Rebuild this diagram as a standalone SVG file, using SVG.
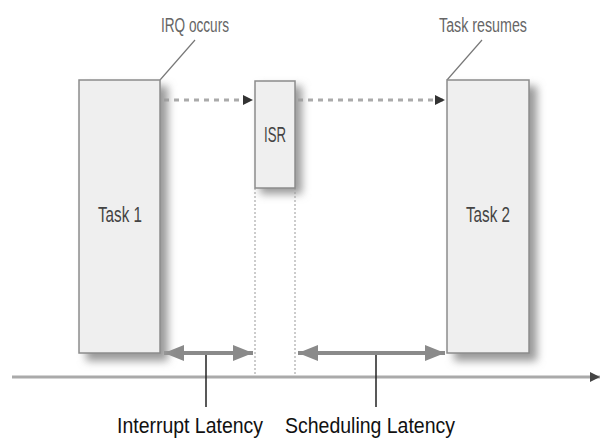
<svg xmlns="http://www.w3.org/2000/svg" width="604" height="438" viewBox="0 0 604 438">
<defs>
<filter id="sh" x="-30%" y="-10%" width="160%" height="130%">
<feGaussianBlur stdDeviation="4"/>
</filter>
<marker id="dh" viewBox="0 0 10 10" refX="10" refY="5" markerWidth="10" markerHeight="10" markerUnits="userSpaceOnUse" orient="auto">
<path d="M0,0 L10,5 L0,10 Z" fill="#333"/>
</marker>
<marker id="gh" viewBox="0 0 20 16" refX="20" refY="8" markerWidth="20" markerHeight="16" markerUnits="userSpaceOnUse" orient="auto-start-reverse">
<path d="M0,0 L20,8 L0,16 Z" fill="#8a8a8a"/>
</marker>
<marker id="ah" viewBox="0 0 10 10" refX="10" refY="5" markerWidth="10" markerHeight="10" markerUnits="userSpaceOnUse" orient="auto">
<path d="M0,0 L10,5 L0,10 Z" fill="#444"/>
</marker>
</defs>
<style>
.box{fill:#efefef;stroke:#8c8c8c;stroke-width:1.5}
.shadow{fill:#9a9a9a;filter:url(#sh)}
.lbl{font-family:"Liberation Sans",Arial,sans-serif;fill:#444;font-size:22px}
.cap{font-family:"Liberation Sans",Arial,sans-serif;fill:#666;font-size:20px}
.bot{font-family:"Liberation Sans",Arial,sans-serif;fill:#111;font-size:22px}
.dash{stroke:#aaa;stroke-width:3;stroke-dasharray:5 5;fill:none}
.lead{stroke:#777;stroke-width:1.2;fill:none}
.vdot{stroke:#999;stroke-width:1;stroke-dasharray:2 2;fill:none}
.lat{stroke:#8a8a8a;stroke-width:4;fill:none}
.tick{stroke:#222;stroke-width:1.5}
</style>
<rect width="604" height="438" fill="#fff"/>
<g id="connectors">
<line class="vdot" x1="255" y1="188" x2="255" y2="378"/>
<line class="vdot" x1="295" y1="188" x2="295" y2="378"/>
<line x1="12" y1="377" x2="600" y2="377" stroke="#aaa" stroke-width="3" marker-end="url(#ah)"/>
<line class="dash" x1="164" y1="100" x2="253" y2="100" marker-end="url(#dh)"/>
<line class="dash" x1="298" y1="100" x2="445" y2="100" marker-end="url(#dh)"/>
<line class="lat" x1="164" y1="353" x2="253" y2="353" marker-start="url(#gh)" marker-end="url(#gh)"/>
<line class="lat" x1="298" y1="353" x2="445" y2="353" marker-start="url(#gh)" marker-end="url(#gh)"/>
<line class="tick" x1="206" y1="355" x2="206" y2="407"/>
<line class="tick" x1="376" y1="355" x2="376" y2="407"/>
<line class="lead" x1="160" y1="80" x2="195" y2="40"/>
<line class="lead" x1="447" y1="80" x2="482" y2="40"/>
</g>
<g id="task1">
<rect class="shadow" x="86" y="86" width="82" height="275"/>
<rect class="box" x="79" y="80" width="81" height="273"/>
<text class="lbl" x="120" y="222" text-anchor="middle" textLength="44" lengthAdjust="spacingAndGlyphs">Task 1</text>
</g>
<g id="isr">
<rect class="shadow" x="260" y="86" width="42" height="108"/>
<rect class="box" x="255" y="81" width="40" height="107"/>
<text class="lbl" x="275" y="142" text-anchor="middle" textLength="22" lengthAdjust="spacingAndGlyphs">ISR</text>
</g>
<g id="task2">
<rect class="shadow" x="454" y="86" width="83" height="275"/>
<rect class="box" x="447" y="80" width="82" height="273"/>
<text class="lbl" x="488" y="222" text-anchor="middle" textLength="44" lengthAdjust="spacingAndGlyphs">Task 2</text>
</g>
<g id="labels">
<text class="cap" x="195" y="32" text-anchor="middle" textLength="68" lengthAdjust="spacingAndGlyphs">IRQ occurs</text>
<text class="cap" x="483" y="32" text-anchor="middle" textLength="88" lengthAdjust="spacingAndGlyphs">Task resumes</text>
<text class="bot" x="117" y="433" textLength="146" lengthAdjust="spacingAndGlyphs">Interrupt Latency</text>
<text class="bot" x="285" y="433" textLength="170" lengthAdjust="spacingAndGlyphs">Scheduling Latency</text>
</g>
</svg>
